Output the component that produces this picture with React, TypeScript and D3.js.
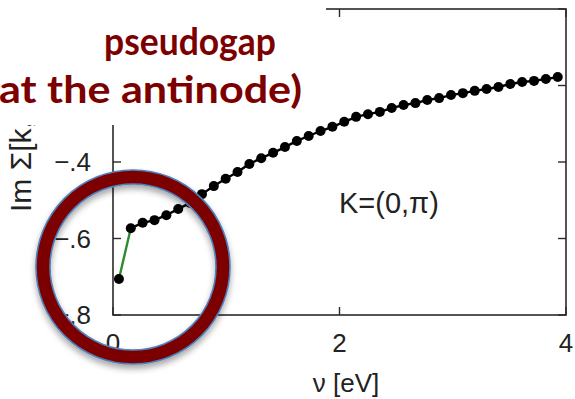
import React from "react";
import * as d3 from "d3";

// Matsubara index n -> nu_n = (2n+1) * pi * T, with T = 1/60 eV
const piT = Math.PI / 60;
const imSigma = [
  -0.706, -0.573, -0.559, -0.552, -0.539, -0.523, -0.507, -0.484, -0.463, -0.444,
  -0.426, -0.405, -0.39, -0.376, -0.361, -0.345, -0.332, -0.319, -0.308, -0.295,
  -0.282, -0.275, -0.269, -0.259, -0.251, -0.246, -0.238, -0.233, -0.225, -0.22,
  -0.214, -0.209, -0.204, -0.196, -0.191, -0.188, -0.183, -0.178,
];
const nuValues = imSigma.map((_, n) => (2 * n + 1) * piT);
const xTicks = [0, 2, 4];
const yTicks = [-0.8, -0.6, -0.4, -0.2, 0];
const titleLines = ["pseudogap", "(at the antinode)"];
const panelLabel = "K=(0,\u03c0)";
const xTitle = "\u03bd [eV]";
const yTitle = "Im \u03a3[k,\u03bd]";

const W = 575;
const H = 399;
const M = { left: 113, right: 9, top: 9, bottom: 84 };

export default function App() {
  const x = d3.scaleLinear().domain([0, 4]).range([M.left, W - M.right]);
  const y = d3.scaleLinear().domain([-0.8, 0]).range([H - M.bottom, M.top]);
  const pts = nuValues.map((v, i) => [x(v), y(imSigma[i])] as [number, number]);
  const line = d3.line();
  const fmtY = (v: number) => d3.format(".1f")(v).replace("0.", ".");
  const axisColor = "#2a2a2a";
  const textColor = "#222";
  const tickLen = 8;
  const font = "'Liberation Sans', Arial, sans-serif";
  const titleFont = "Lato, 'Open Sans', sans-serif";
  const red = "#7d0000";
  const cx = 133;
  const cy = 267;

  return (
    <svg
      width={W}
      height={H}
      style={{ position: "absolute", left: 0, top: 0, background: "#fff" }}
    >
      <defs>
        <filter id="ringShadow" x="-30%" y="-30%" width="160%" height="160%">
          <feDropShadow dx="0" dy="4" stdDeviation="3" floodColor="#000" floodOpacity="0.35" />
        </filter>
      </defs>

      {/* frame */}
      <rect
        x={M.left}
        y={M.top}
        width={W - M.left - M.right}
        height={H - M.top - M.bottom}
        fill="none"
        stroke={axisColor}
        strokeWidth={1.6}
      />
      {/* y ticks on both sides */}
      {yTicks.map((t) => (
        <g key={"y" + t} stroke={axisColor} strokeWidth={1.4}>
          <line x1={M.left} x2={M.left + tickLen} y1={y(t)} y2={y(t)} />
          <line x1={W - M.right} x2={W - M.right - tickLen} y1={y(t)} y2={y(t)} />
        </g>
      ))}
      {/* x ticks on both sides */}
      {xTicks.map((t) => (
        <g key={"x" + t} stroke={axisColor} strokeWidth={1.4}>
          <line x1={x(t)} x2={x(t)} y1={H - M.bottom} y2={H - M.bottom - tickLen} />
          <line x1={x(t)} x2={x(t)} y1={M.top} y2={M.top + tickLen} />
        </g>
      ))}
      {yTicks.map((t) => (
        <text
          key={"yl" + t}
          x={M.left - 22}
          y={y(t) + 9}
          textAnchor="end"
          fontFamily={font}
          fontSize={26}
          fill={textColor}
        >
          {fmtY(t)}
        </text>
      ))}
      {xTicks.map((t) => (
        <text
          key={"xl" + t}
          x={x(t)}
          y={H - M.bottom + 37}
          textAnchor="middle"
          fontFamily={font}
          fontSize={26}
          fill={textColor}
        >
          {t}
        </text>
      ))}
      <text
        x={346}
        y={392}
        textAnchor="middle"
        fontFamily={font}
        fontSize={26}
        fill={textColor}
      >
        {xTitle}
      </text>
      <text
        transform="translate(31,212) rotate(-90)"
        textAnchor="start"
        fontFamily={font}
        fontSize={30}
        fill={textColor}
      >
        {yTitle}
      </text>
      <text x={339} y={213} fontFamily={font} fontSize={29} fill={textColor}>
        {panelLabel}
      </text>

      {/* self-energy curve: first step in green, rest in black */}
      <path d={line(pts.slice(0, 2)) || ""} fill="none" stroke="#2f8a2f" strokeWidth={2.4} />
      <path d={line(pts.slice(1)) || ""} fill="none" stroke="#000" strokeWidth={2.4} />
      {pts.map(([px, py], i) => (
        <circle key={i} cx={px} cy={py} r={5} fill="#000" />
      ))}

      {/* title panel */}
      <rect x={0} y={0} width={326} height={125} fill="#fff" />
      <text
        x={104}
        y={55}
        textLength={172}
        lengthAdjust="spacingAndGlyphs"
        fontFamily={titleFont}
        fontWeight={700}
        fontSize={38}
        fill={red}
      >
        {titleLines[0]}
      </text>
      <text
        x={-12}
        y={103}
        textLength={314}
        lengthAdjust="spacingAndGlyphs"
        fontFamily={titleFont}
        fontWeight={700}
        fontSize={38}
        fill={red}
      >
        {titleLines[1]}
      </text>

      {/* highlight ring */}
      <g filter="url(#ringShadow)">
        <circle cx={cx} cy={cy} r={90} fill="none" stroke={red} strokeWidth={14} />
        <circle cx={cx} cy={cy} r={97} fill="none" stroke="#4f81bd" strokeWidth={1.6} />
        <circle cx={cx} cy={cy} r={83} fill="none" stroke="#4f81bd" strokeWidth={1.6} />
      </g>
    </svg>
  );
}
